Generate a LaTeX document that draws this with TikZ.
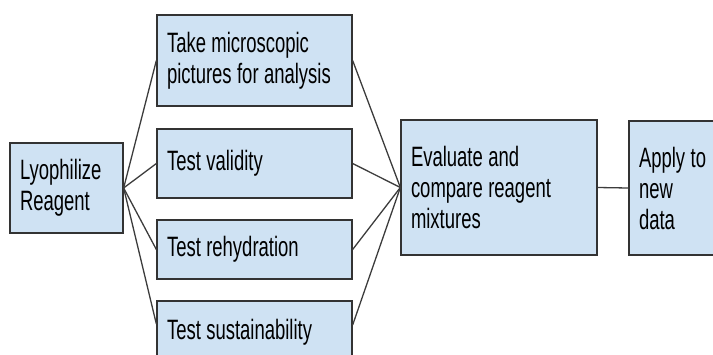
\documentclass[tikz,border=0pt]{standalone}
\usepackage{fontspec}
\setmainfont{Liberation Sans}[FakeStretch=0.66]
\definecolor{boxblue}{HTML}{CFE2F3}
\definecolor{edgegray}{HTML}{3C3C3C}
\newcommand\boxfont{\fontsize{28}{31}\selectfont\spaceskip 5.4pt plus 1pt\relax}

\begin{document}
\begin{tikzpicture}[x=1pt,y=-1pt,
  box/.style={rectangle,draw=black!80,fill=boxblue,line width=1.3pt,
    inner xsep=10pt,align=flush left,font=\boxfont},
  link/.style={draw=edgegray,line width=1.3pt}]
\useasboundingbox (0,0) rectangle (713,354);
\clip (0,0) rectangle (713,354);

% first step and the four tests
\node[box,text width=93pt,minimum height=90pt]  (lyo) at (66.5,188)  {Lyophilize\\Reagent};
\node[box,text width=175pt,minimum height=91pt] (pic) at (254.5,60.5)  {Take microscopic\\pictures for analysis};
\node[box,text width=175pt,minimum height=69pt] (val) at (254.5,163.5) {Test validity};
\node[box,text width=175pt,minimum height=59pt] (reh) at (254.5,249.5) {Test rehydration};
\node[box,text width=175pt,minimum height=62pt] (sus) at (254.5,332)   {Test sustainability};

% evaluation and last step
\node[box,text width=176pt,minimum height=135pt] (eval) at (499,187.5) {Evaluate and\\compare reagent\\mixtures};
\node[box,text width=73pt,minimum height=134pt]  (app)  at (675.5,188) {Apply to\\new\\data};

\draw[link] (lyo.east) -- (pic.west);
\draw[link] (lyo.east) -- (val.west);
\draw[link] (lyo.east) -- (reh.west);
\draw[link] (lyo.east) -- ([yshift=8pt]sus.west);

\draw[link] (pic.east) -- (eval.west);
\draw[link] (val.east) -- (eval.west);
\draw[link] (reh.east) -- (eval.west);
\draw[link] ([yshift=7pt]sus.east) -- (eval.west);

\draw[link] (eval.east) -- (app.west);

\end{tikzpicture}
\end{document}
